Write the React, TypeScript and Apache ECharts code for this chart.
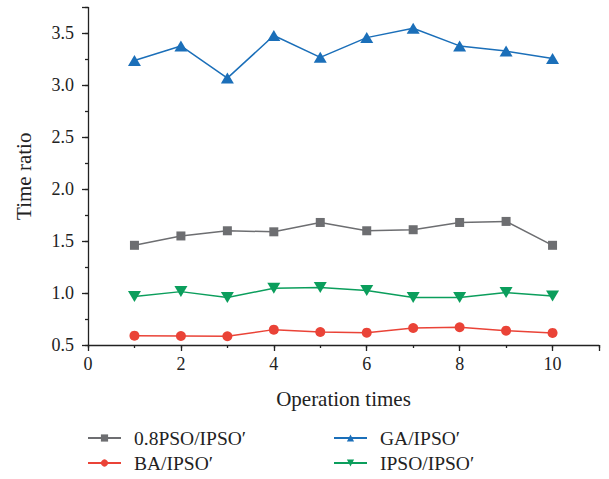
import React, { useEffect, useRef } from "react";
import * as echarts from "echarts";

const operationTimes = [1, 2, 3, 4, 5, 6, 7, 8, 9, 10];
const psoRatio = [1.46, 1.55, 1.6, 1.59, 1.68, 1.6, 1.61, 1.68, 1.69, 1.46];
const gaRatio = [3.24, 3.38, 3.07, 3.48, 3.27, 3.46, 3.55, 3.38, 3.33, 3.26];
const baRatio = [0.59, 0.587, 0.584, 0.648, 0.625, 0.619, 0.664, 0.671, 0.638, 0.616];
const ipsoRatio = [0.966, 1.014, 0.957, 1.047, 1.053, 1.024, 0.957, 0.957, 1.005, 0.973];

const seriesNames = ["0.8PSO/IPSO′", "GA/IPSO′", "BA/IPSO′", "IPSO/IPSO′"];
const colors = ["#6d6e71", "#1b6fb9", "#ea4337", "#0b9e5c"];

const FONT = '"Liberation Serif", "Times New Roman", serif';
const AXIS_COLOR = "#222";

const pairs = (ys: number[]) => operationTimes.map((x, i) => [x, ys[i]]);

export default function App() {
  const ref = useRef<HTMLDivElement>(null);
  useEffect(() => {
    if (!ref.current) return;
    const chart = echarts.init(ref.current, undefined, { renderer: "svg" });
    const mkSeries = (i: number, data: number[], symbol: string, size: any) => ({
      name: seriesNames[i],
      type: "line",
      data: pairs(data),
      xAxisIndex: 0,
      yAxisIndex: 0,
      symbol,
      symbolSize: size,
      itemStyle: { color: colors[i] },
      lineStyle: { color: colors[i], width: 1.5 },
      z: 3,
    });
    const legendBase = {
      orient: "vertical",
      top: 428,
      padding: 0,
      itemWidth: 33,
      itemHeight: 9,
      itemGap: 5,
      textStyle: { fontFamily: FONT, fontSize: 19.5, lineHeight: 20, color: "#222", padding: [0, 0, 0, 8] },
    };
    chart.setOption({
      animation: false,
      backgroundColor: "#fff",
      textStyle: { fontFamily: FONT },
      grid: { left: 88, right: 10, top: 7.5, bottom: 134 },
      xAxis: [
        {
          type: "value",
          min: 0,
          max: 11,
          interval: 2,
          name: "Operation times",
          nameLocation: "middle",
          nameGap: 43,
          nameTextStyle: { fontFamily: FONT, fontSize: 21, color: "#222" },
          axisLine: { show: true, lineStyle: { color: AXIS_COLOR, width: 1.3 } },
          axisTick: { show: true, length: 6, lineStyle: { color: AXIS_COLOR, width: 1.3 } },
          axisLabel: {
            fontFamily: FONT,
            fontSize: 18,
            color: "#222",
            margin: 10,
            formatter: (v: number) => (Number.isInteger(v) && v % 2 === 0 && v <= 10 ? String(v) : ""),
          },
          splitLine: { show: false },
        },
        {
          type: "value",
          min: 0,
          max: 11,
          interval: 1,
          position: "bottom",
          axisLine: { show: false },
          axisTick: { show: true, length: 3, lineStyle: { color: AXIS_COLOR, width: 1.3 } },
          axisLabel: { show: false },
          splitLine: { show: false },
        },
      ],
      yAxis: [
        {
          type: "value",
          min: 0.5,
          max: 3.75,
          interval: 0.5,
          name: "Time ratio",
          nameLocation: "middle",
          nameGap: 54,
          nameTextStyle: { fontFamily: FONT, fontSize: 21, color: "#222" },
          axisLine: { show: true, lineStyle: { color: AXIS_COLOR, width: 1.3 } },
          axisTick: { show: true, length: 6, lineStyle: { color: AXIS_COLOR, width: 1.3 } },
          axisLabel: {
            fontFamily: FONT,
            fontSize: 18,
            color: "#222",
            margin: 14,
            formatter: (v: number) => {
              const k = v / 0.5;
              return Math.abs(k - Math.round(k)) < 1e-6 && v <= 3.5 ? v.toFixed(1) : "";
            },
          },
          splitLine: { show: false },
        },
        {
          type: "value",
          min: 0.5,
          max: 3.75,
          interval: 0.25,
          position: "left",
          axisLine: { show: false },
          axisTick: { show: true, length: 3, lineStyle: { color: AXIS_COLOR, width: 1.3 } },
          axisLabel: { show: false },
          splitLine: { show: false },
        },
      ],
      legend: [
        { ...legendBase, data: [seriesNames[0], seriesNames[2]], left: 87 },
        { ...legendBase, data: [seriesNames[1], seriesNames[3]], left: 333 },
      ],
      series: [
        mkSeries(0, psoRatio, "rect", 9),
        mkSeries(1, gaRatio, "triangle", [13, 11]),
        mkSeries(2, baRatio, "circle", 10),
        mkSeries(3, ipsoRatio, "path://M0,0L12,0L6,10Z", [13, 11]),
      ],
    });
    return () => chart.dispose();
  }, []);
  return <div ref={ref} style={{ width: 609, height: 479, position: "absolute", left: 0, top: 0 }} />;
}
